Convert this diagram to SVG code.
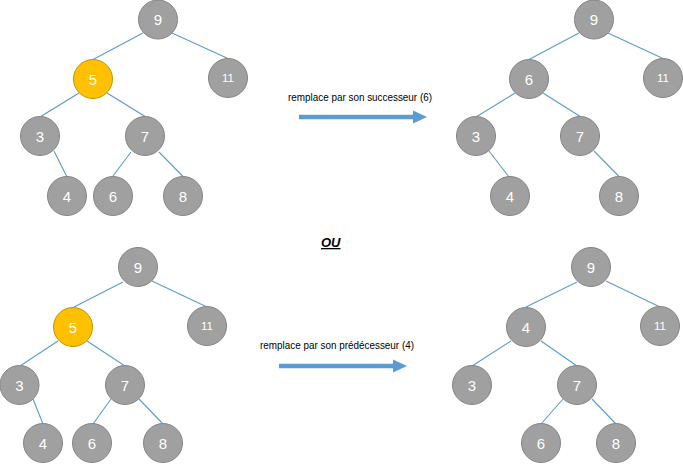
<svg xmlns="http://www.w3.org/2000/svg" width="683" height="464" viewBox="0 0 683 464">
<style>
.n circle{fill:#a0a0a0;stroke:#858585;stroke-width:1}
.n.y circle{fill:#ffc000;stroke:#c49500}
.n text{fill:#fff;font-family:"Liberation Sans",Arial,sans-serif;font-size:15px;text-anchor:middle;dominant-baseline:central}
.n text.s{font-size:11.5px}
.e line{stroke:#5b9bd5;stroke-width:1.1}
.lbl{font-family:"Liberation Sans",Arial,sans-serif;font-size:10.8px;fill:#000}
.arr line{stroke:#5b9bd5;stroke-width:4.3}
.arr polygon{fill:#5b9bd5}
</style>
<rect width="683" height="464" fill="#fff"/>
<g id="connectors" class="e">
<line x1="143" y1="33" x2="93" y2="59.5"/>
<line x1="172" y1="33" x2="229" y2="59"/>
<line x1="79" y1="93" x2="40" y2="117"/>
<line x1="107" y1="93" x2="146" y2="117"/>
<line x1="54" y1="151" x2="67" y2="177"/>
<line x1="131" y1="152" x2="113" y2="176"/>
<line x1="159" y1="152" x2="183" y2="176.5"/>
<line x1="579" y1="33" x2="529" y2="59.5"/>
<line x1="608" y1="33" x2="664" y2="59"/>
<line x1="515" y1="93" x2="476" y2="117"/>
<line x1="543" y1="93" x2="581" y2="117"/>
<line x1="489" y1="151" x2="509" y2="177"/>
<line x1="594" y1="151" x2="619" y2="176.5"/>
<line x1="123" y1="282" x2="74" y2="307"/>
<line x1="152" y1="281" x2="207" y2="307"/>
<line x1="58" y1="341" x2="20" y2="366"/>
<line x1="87" y1="341" x2="125" y2="366"/>
<line x1="33" y1="399" x2="43" y2="424"/>
<line x1="111" y1="399" x2="93" y2="424"/>
<line x1="139" y1="399" x2="163" y2="424"/>
<line x1="577" y1="282" x2="526" y2="307"/>
<line x1="606" y1="281" x2="660" y2="307"/>
<line x1="511" y1="341" x2="472" y2="366"/>
<line x1="541" y1="341" x2="577" y2="366"/>
<line x1="563" y1="399" x2="541" y2="424"/>
<line x1="592" y1="399" x2="616" y2="424"/>
</g>
<g id="t1-9" class="n"><circle cx="158" cy="19.5" r="19.5"/><text x="158" y="19.5">9</text></g>
<g id="t1-5" class="n y"><circle cx="93" cy="79" r="19.5"/><text x="93" y="79">5</text></g>
<g id="t1-11" class="n"><circle cx="228" cy="78" r="19.5"/><text class="s" x="228" y="78">11</text></g>
<g id="t1-3" class="n"><circle cx="40" cy="136" r="19.5"/><text x="40" y="136">3</text></g>
<g id="t1-7" class="n"><circle cx="145" cy="136" r="19.5"/><text x="145" y="136">7</text></g>
<g id="t1-4" class="n"><circle cx="67" cy="196" r="19.5"/><text x="67" y="196">4</text></g>
<g id="t1-6" class="n"><circle cx="113" cy="196" r="19.5"/><text x="113" y="196">6</text></g>
<g id="t1-8" class="n"><circle cx="183" cy="196" r="19.5"/><text x="183" y="196">8</text></g>
<g id="t2-9" class="n"><circle cx="594" cy="19.5" r="19.5"/><text x="594" y="19.5">9</text></g>
<g id="t2-6" class="n"><circle cx="529" cy="79" r="19.5"/><text x="529" y="79">6</text></g>
<g id="t2-11" class="n"><circle cx="663" cy="78" r="19.5"/><text class="s" x="663" y="78">11</text></g>
<g id="t2-3" class="n"><circle cx="476" cy="136" r="19.5"/><text x="476" y="136">3</text></g>
<g id="t2-7" class="n"><circle cx="580" cy="136" r="19.5"/><text x="580" y="136">7</text></g>
<g id="t2-4" class="n"><circle cx="510" cy="196" r="19.5"/><text x="510" y="196">4</text></g>
<g id="t2-8" class="n"><circle cx="619" cy="196" r="19.5"/><text x="619" y="196">8</text></g>
<g id="t3-9" class="n"><circle cx="138" cy="267" r="19.5"/><text x="138" y="267">9</text></g>
<g id="t3-5" class="n y"><circle cx="73" cy="327" r="19.5"/><text x="73" y="327">5</text></g>
<g id="t3-11" class="n"><circle cx="207" cy="326" r="19.5"/><text class="s" x="207" y="326">11</text></g>
<g id="t3-3" class="n"><circle cx="19.5" cy="385" r="19.5"/><text x="19.5" y="385">3</text></g>
<g id="t3-7" class="n"><circle cx="125" cy="385" r="19.5"/><text x="125" y="385">7</text></g>
<g id="t3-4" class="n"><circle cx="43" cy="443" r="19.5"/><text x="43" y="443">4</text></g>
<g id="t3-6" class="n"><circle cx="92" cy="443" r="19.5"/><text x="92" y="443">6</text></g>
<g id="t3-8" class="n"><circle cx="163" cy="443" r="19.5"/><text x="163" y="443">8</text></g>
<g id="t4-9" class="n"><circle cx="591" cy="267" r="19.5"/><text x="591" y="267">9</text></g>
<g id="t4-4" class="n"><circle cx="526" cy="327" r="19.5"/><text x="526" y="327">4</text></g>
<g id="t4-11" class="n"><circle cx="660" cy="326" r="19.5"/><text class="s" x="660" y="326">11</text></g>
<g id="t4-3" class="n"><circle cx="472" cy="385" r="19.5"/><text x="472" y="385">3</text></g>
<g id="t4-7" class="n"><circle cx="577" cy="385" r="19.5"/><text x="577" y="385">7</text></g>
<g id="t4-6" class="n"><circle cx="541" cy="443" r="19.5"/><text x="541" y="443">6</text></g>
<g id="t4-8" class="n"><circle cx="616" cy="443" r="19.5"/><text x="616" y="443">8</text></g>
<g id="arrow-top" class="arr">
<text class="lbl" x="288" y="101" textLength="144" lengthAdjust="spacingAndGlyphs">remplace par son successeur (6)</text>
<line x1="299" y1="117" x2="414" y2="117"/>
<polygon points="413,110.5 427,117 413,123.5"/>
</g>
<g id="ou">
<text x="321" y="247" font-family="'Liberation Sans',Arial,sans-serif" font-size="13" font-weight="bold" font-style="italic" text-decoration="underline" fill="#000">OU</text>
</g>
<g id="arrow-bottom" class="arr">
<text class="lbl" x="260" y="349" textLength="154" lengthAdjust="spacingAndGlyphs">remplace par son prédécesseur (4)</text>
<line x1="279" y1="366" x2="394" y2="366"/>
<polygon points="393,359.5 407,366 393,372.5"/>
</g>
</svg>
